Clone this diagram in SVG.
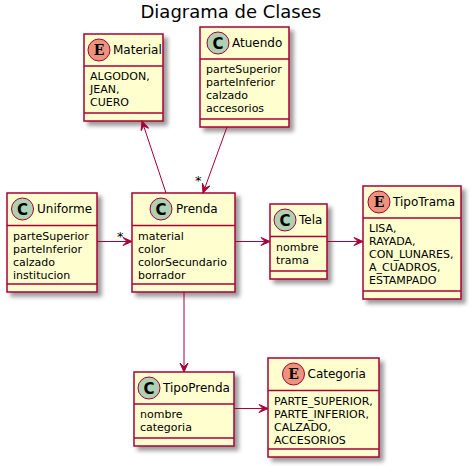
<svg xmlns="http://www.w3.org/2000/svg" width="474" height="471" viewBox="0 0 474 471">
<defs>
<filter id="sh" x="-1" y="-1" width="300%" height="300%">
<feGaussianBlur result="b1" stdDeviation="2"/>
<feColorMatrix in="b1" result="b2" type="matrix" values="0 0 0 0 0 0 0 0 0 0 0 0 0 0 0 0 0 0 .4 0"/>
<feOffset dx="4" dy="4" in="b2" result="b3"/>
<feBlend in="SourceGraphic" in2="b3" mode="normal"/>
</filter>
<marker id="ah" viewBox="-10 -5 11 10" refX="0" refY="0" markerWidth="11" markerHeight="10" markerUnits="userSpaceOnUse" orient="auto">
<path d="M0,0 L-9,-4 L-5,0 L-9,4 Z" fill="#A80036" stroke="#A80036" stroke-width="1"/>
</marker>
</defs>
<style>
.box{fill:#FEFECE;stroke:#A80036;stroke-width:1.5;filter:url(#sh)}
.sep{stroke:#A80036;stroke-width:1.5}
.cc{fill:#ADD1B2;stroke:#A80036;stroke-width:1}
.ce{fill:#EB937F;stroke:#A80036;stroke-width:1}
.lc{font-family:"DejaVu Sans",sans-serif;font-weight:bold;font-size:15px;text-anchor:middle;fill:#000}
.le{font-family:"DejaVu Serif",serif;font-weight:bold;font-size:14px;text-anchor:middle;fill:#000}
.nm{font-family:"DejaVu Sans",sans-serif;font-size:12px;fill:#000}
.at{font-family:"DejaVu Sans",sans-serif;font-size:11px;fill:#000}
.ttl{font-family:"DejaVu Sans",sans-serif;font-size:18px;fill:#000}
.lnk{stroke:#A80036;stroke-width:1;fill:none;marker-end:url(#ah)}
.lbl{font-family:"DejaVu Sans",sans-serif;font-size:13px;fill:#000}
</style>
<text class="ttl" x="140.5" y="17.5">Diagrama de Clases</text>

<g id="Material">
<rect class="box" x="84" y="34" width="79" height="87"/>
<ellipse class="ce" cx="99" cy="50" rx="11" ry="11"/>
<text class="le" x="99" y="55">E</text>
<text class="nm" x="113" y="54.15">Material</text>
<line class="sep" x1="84" y1="66" x2="163" y2="66"/>
<text class="at" x="90" y="80">ALGODON,</text>
<text class="at" x="90" y="93">JEAN,</text>
<text class="at" x="90" y="106">CUERO</text>
<line class="sep" x1="84" y1="113" x2="163" y2="113"/>
</g>

<g id="Atuendo">
<rect class="box" x="200" y="27" width="89" height="100"/>
<ellipse class="cc" cx="218" cy="43" rx="11" ry="11"/>
<text class="lc" x="218" y="48.5">C</text>
<text class="nm" x="232" y="47.15">Atuendo</text>
<line class="sep" x1="200" y1="59" x2="289" y2="59"/>
<text class="at" x="206" y="73">parteSuperior</text>
<text class="at" x="206" y="86">parteInferior</text>
<text class="at" x="206" y="99">calzado</text>
<text class="at" x="206" y="112">accesorios</text>
<line class="sep" x1="200" y1="119" x2="289" y2="119"/>
</g>

<g id="Uniforme">
<rect class="box" x="7" y="193" width="90" height="99"/>
<ellipse class="cc" cx="22.5" cy="209" rx="11" ry="11"/>
<text class="lc" x="22.5" y="214.5">C</text>
<text class="nm" x="37" y="213.15">Uniforme</text>
<line class="sep" x1="7" y1="225.5" x2="97" y2="225.5"/>
<text class="at" x="13" y="240">parteSuperior</text>
<text class="at" x="13" y="253">parteInferior</text>
<text class="at" x="13" y="266">calzado</text>
<text class="at" x="13" y="279">institucion</text>
<line class="sep" x1="7" y1="284" x2="97" y2="284"/>
</g>

<g id="Prenda">
<rect class="box" x="132" y="193" width="103" height="99"/>
<ellipse class="cc" cx="161" cy="209" rx="11" ry="11"/>
<text class="lc" x="161" y="214.5">C</text>
<text class="nm" x="176" y="213.15">Prenda</text>
<line class="sep" x1="132" y1="225.5" x2="235" y2="225.5"/>
<text class="at" x="138" y="240">material</text>
<text class="at" x="138" y="253">color</text>
<text class="at" x="138" y="266">colorSecundario</text>
<text class="at" x="138" y="279">borrador</text>
<line class="sep" x1="132" y1="284" x2="235" y2="284"/>
</g>

<g id="Tela">
<rect class="box" x="270" y="204" width="57" height="75"/>
<ellipse class="cc" cx="285" cy="220" rx="11" ry="11"/>
<text class="lc" x="285" y="225.5">C</text>
<text class="nm" x="299" y="224.15">Tela</text>
<line class="sep" x1="270" y1="236.5" x2="327" y2="236.5"/>
<text class="at" x="276" y="251">nombre</text>
<text class="at" x="276" y="264">trama</text>
<line class="sep" x1="270" y1="271" x2="327" y2="271"/>
</g>

<g id="TipoTrama">
<rect class="box" x="363" y="186" width="98" height="113"/>
<ellipse class="ce" cx="379" cy="202" rx="11" ry="11"/>
<text class="le" x="379" y="207">E</text>
<text class="nm" x="393" y="206.15">TipoTrama</text>
<line class="sep" x1="363" y1="218" x2="461" y2="218"/>
<text class="at" x="369" y="232">LISA,</text>
<text class="at" x="369" y="245">RAYADA,</text>
<text class="at" x="369" y="258">CON_LUNARES,</text>
<text class="at" x="369" y="271">A_CUADROS,</text>
<text class="at" x="369" y="284">ESTAMPADO</text>
<line class="sep" x1="363" y1="291" x2="461" y2="291"/>
</g>

<g id="TipoPrenda">
<rect class="box" x="134" y="372" width="100" height="74"/>
<ellipse class="cc" cx="149" cy="388" rx="11" ry="11"/>
<text class="lc" x="149" y="393.5">C</text>
<text class="nm" x="163" y="392.15">TipoPrenda</text>
<line class="sep" x1="134" y1="404" x2="234" y2="404"/>
<text class="at" x="140" y="418">nombre</text>
<text class="at" x="140" y="431">categoria</text>
<line class="sep" x1="134" y1="438" x2="234" y2="438"/>
</g>

<g id="Categoria">
<rect class="box" x="268" y="358" width="111" height="99"/>
<ellipse class="ce" cx="293.5" cy="374" rx="11" ry="11"/>
<text class="le" x="293.5" y="379">E</text>
<text class="nm" x="307.5" y="378.15">Categoria</text>
<line class="sep" x1="268" y1="390.5" x2="379" y2="390.5"/>
<text class="at" x="274" y="405">PARTE_SUPERIOR,</text>
<text class="at" x="274" y="418">PARTE_INFERIOR,</text>
<text class="at" x="274" y="431">CALZADO,</text>
<text class="at" x="274" y="444">ACCESORIOS</text>
<line class="sep" x1="268" y1="449" x2="379" y2="449"/>
</g>

<g id="connectors">
<path class="lnk" d="M166,193 L142,121"/>
<path class="lnk" d="M227,127 L203,193"/>
<text class="lbl" x="195" y="185">*</text>
<path class="lnk" d="M97,241.5 L132,241.5"/>
<text class="lbl" x="117" y="241">*</text>
<path class="lnk" d="M235,241.5 L270,241.5"/>
<path class="lnk" d="M327,241.5 L363,241.5"/>
<path class="lnk" d="M184,292 L184,372"/>
<path class="lnk" d="M234,408.5 L268,408.5"/>
</g>
</svg>
